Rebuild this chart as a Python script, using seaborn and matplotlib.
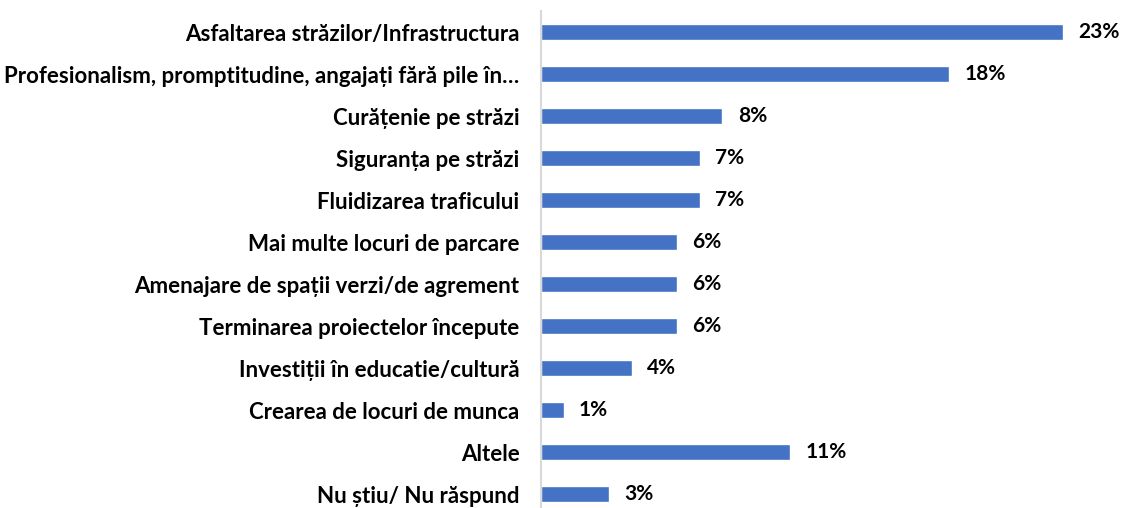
import matplotlib
matplotlib.use("Agg")
import matplotlib.pyplot as plt
import seaborn as sns
import pandas as pd

categories = [
    "Asfaltarea străzilor/Infrastructura",
    "Profesionalism, promptitudine, angajați fără pile în…",
    "Curățenie pe străzi",
    "Siguranța pe străzi",
    "Fluidizarea traficului",
    "Mai multe locuri de parcare",
    "Amenajare de spații verzi/de agrement",
    "Terminarea proiectelor începute",
    "Investiții în educatie/cultură",
    "Crearea de locuri de munca",
    "Altele",
    "Nu știu/ Nu răspund",
]
values = [23, 18, 8, 7, 7, 6, 6, 6, 4, 1, 11, 3]

df = pd.DataFrame({"categorie": categories, "procent": values})

sns.set_theme(style="white")
plt.rcParams["font.family"] = ["Lato", "DejaVu Sans"]

fig = plt.figure(figsize=(11.21, 5.08), dpi=100)
ax = fig.add_axes([541 / 1121, -7 / 508, (1108 - 541) / 1121, (515 - 11) / 508])

sns.barplot(data=df, x="procent", y="categorie", color="#4472C4",
            width=0.4, orient="h", ax=ax, saturation=1)

ax.set_xlim(0, 25)
ax.set_ylim(11.5, -0.5)
ax.set_xlabel("")
ax.set_ylabel("")
ax.set_xticks([])
for side in ["top", "right", "bottom"]:
    ax.spines[side].set_visible(False)
ax.spines["left"].set_color("#D9D9D9")
ax.spines["left"].set_linewidth(1.5)
ax.tick_params(axis="y", length=0, pad=15.5)
for lbl in ax.get_yticklabels():
    lbl.set_fontsize(16)
    lbl.set_fontweight("bold")
    lbl.set_color("#000000")

ax.bar_label(ax.containers[0], labels=[f"{v}%" for v in values],
             padding=11, fontsize=15, fontweight="bold", color="#000000")

fig.savefig("out.png", dpi=100)
